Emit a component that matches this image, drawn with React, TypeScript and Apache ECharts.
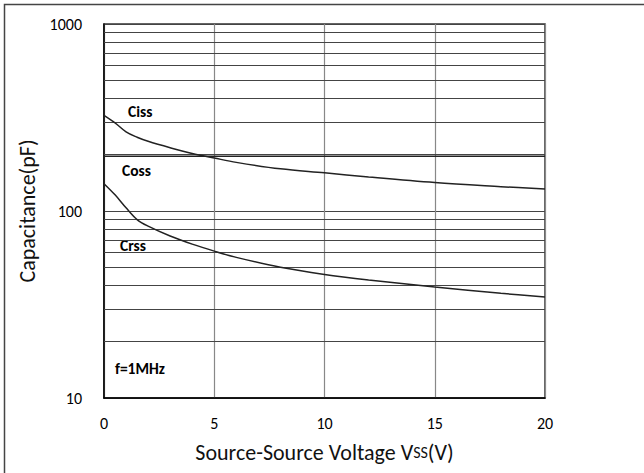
import React, { useEffect, useRef } from "react";
import * as echarts from "echarts";

const voltage = [0, 0.5, 1, 1.5, 2, 3, 4, 5, 6, 8, 10, 12, 15, 18, 20];
const ciss = [325, 296, 265, 248, 236, 218, 203, 192, 182, 168, 160, 152, 142, 135, 131];
const coss = [196, 196, 196, 196, 196, 196, 196, 196, 196, 196, 196, 196, 196, 196, 196];
const crss = [140, 122, 104, 90, 83, 73.5, 66.5, 61, 56.5, 50, 45.8, 42.8, 39.2, 36.3, 34.7];
const minorGridValues = [20, 30, 40, 50, 60, 70, 80, 90, 200, 300, 400, 500, 600, 700, 800, 900];
const xTicks = { min: 0, max: 20, interval: 5 };
const yRange = { min: 10, max: 1000 };

const FONT = "Carlito, Lato, 'Open Sans', sans-serif";

export default function App() {
  const ref = useRef<HTMLDivElement>(null);
  useEffect(() => {
    if (!ref.current) return;
    const chart = echarts.init(ref.current, null, { renderer: "svg" });
    const toPairs = (arr: number[]) => voltage.map((v, i) => [v, arr[i]]);
    const lineStyle = { color: "#222", width: 1.5 };
    chart.setOption({
      animation: false,
      backgroundColor: "#fff",
      textStyle: { fontFamily: FONT },
      grid: {
        left: 104,
        right: 99,
        top: 24,
        bottom: 75,
        show: true,
        borderColor: "#333",
        borderWidth: 1.5,
      },
      xAxis: {
        type: "value",
        min: xTicks.min,
        max: xTicks.max,
        interval: xTicks.interval,
        axisLine: { show: true, onZero: false, lineStyle: { color: "#000", width: 1.5 } },
        axisTick: { show: false },
        axisLabel: { color: "#000", fontSize: 16, margin: 17, fontFamily: FONT },
        splitLine: { show: true, lineStyle: { color: "#888", width: 1.2 } },
        name: "Source-Source Voltage V{s|SS}(V)",
        nameLocation: "middle",
        nameGap: 43,
        nameTextStyle: {
          color: "#111",
          fontSize: 22,
          fontFamily: FONT,
          rich: { s: { fontSize: 16, color: "#111", fontFamily: FONT } },
        },
      },
      yAxis: {
        type: "log",
        logBase: 10,
        min: yRange.min,
        max: yRange.max,
        axisLine: { show: true, lineStyle: { color: "#000", width: 1.5 } },
        axisTick: { show: false },
        axisLabel: {
          color: "#000",
          fontSize: 16,
          margin: 22,
          fontFamily: FONT,
          formatter: (v: number) => String(Math.round(v)),
        },
        splitLine: { show: true, lineStyle: { color: "#444", width: 1.2 } },
        name: "Capacitance(pF)",
        nameLocation: "middle",
        nameGap: 57,
        nameTextStyle: { color: "#111", fontSize: 22, fontFamily: FONT },
      },
      series: [
        {
          type: "line",
          name: "Ciss",
          data: toPairs(ciss),
          smooth: 0.35,
          symbol: "none",
          lineStyle,
          markLine: {
            silent: true,
            symbol: "none",
            label: { show: false },
            lineStyle: { color: "#444", width: 1.2, type: "solid" },
            data: minorGridValues.map((v) => ({ yAxis: v })),
          },
          z: 5,
        },
        { type: "line", name: "Coss", data: toPairs(coss), symbol: "none", lineStyle, z: 5 },
        { type: "line", name: "Crss", data: toPairs(crss), smooth: 0.35, symbol: "none", lineStyle, z: 5 },
      ],
      graphic: [
        {
          type: "rect",
          shape: { x: 4.5, y: 4.5, width: 660, height: 490 },
          style: { fill: "none", stroke: "#444", lineWidth: 1.5 },
          silent: true,
        },
        { type: "text", x: 128, y: 111, style: { text: "Ciss", font: `bold 15.5px ${FONT}`, fill: "#000", textVerticalAlign: "middle" } },
        { type: "text", x: 122, y: 170, style: { text: "Coss", font: `bold 15.5px ${FONT}`, fill: "#000", textVerticalAlign: "middle" } },
        { type: "text", x: 120, y: 245, style: { text: "Crss", font: `bold 15.5px ${FONT}`, fill: "#000", textVerticalAlign: "middle" } },
        { type: "text", x: 115, y: 368, style: { text: "f=1MHz", font: `bold 15.5px ${FONT}`, fill: "#000", textVerticalAlign: "middle" } },
      ],
    });
    return () => chart.dispose();
  }, []);
  return <div ref={ref} style={{ position: "fixed", left: 0, top: 0, width: 644, height: 473 }} />;
}
